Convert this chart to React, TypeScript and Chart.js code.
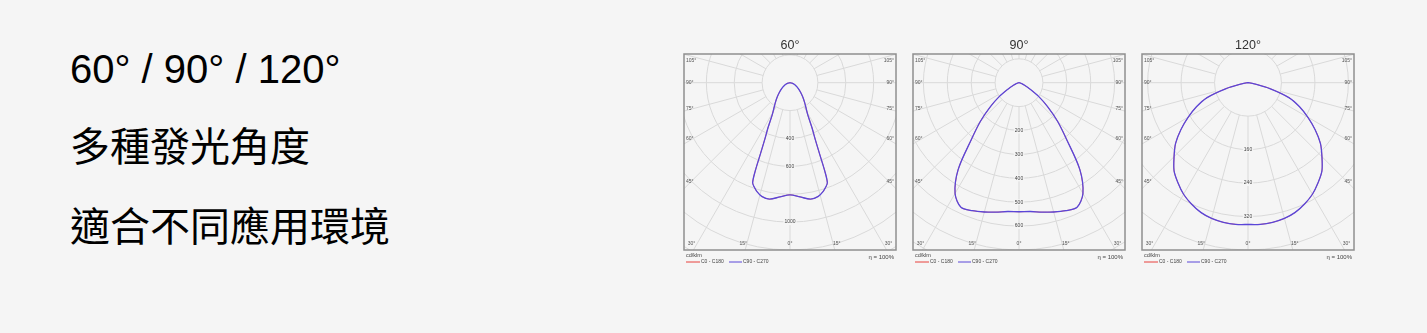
import React, { useEffect, useRef } from "react";
import { Chart, registerables } from "chart.js";

Chart.register(...registerables);

// ---------- data ----------
const headline = "60° / 90° / 120°";
const textLines = ["多種發光角度", "適合不同應用環境"];

const chartTitles = ["60°", "90°", "120°"];
const seriesNames = ["C0 - C180", "C90 - C270"];
const unitLabel = "cd/klm";
const efficiencyLabel = "η = 100%";

// gamma angle from nadir (deg) and luminous intensity (cd/klm)
const gamma60 = [0, 5, 10, 14, 17, 19, 20.5, 21.5, 22.5, 24, 26, 29, 33, 37, 42, 48, 55, 62, 70, 80, 90];
const intensity60 = [804, 822, 848, 840, 815, 790, 765, 680, 560, 445, 360, 262, 208, 172, 136, 102, 73, 50, 32, 14, 0];
const gamma90 = [0, 5, 10, 15, 20, 25, 30, 35, 40, 45, 50, 55, 60, 65, 70, 75, 80, 85, 90];
const intensity90 = [540, 541, 550, 560, 570, 575, 535, 444, 310, 228, 156, 100, 52, 26, 14, 7, 3, 1, 0];
const gamma120 = [0, 5, 10, 15, 20, 25, 30, 35, 40, 45, 50, 55, 60, 65, 70, 75, 80, 85, 90];
const intensity120 = [339, 340, 339, 336, 330, 320, 308, 292, 275, 250, 226, 196, 165, 136, 104, 54, 15, 4, 0];

const ringSteps = [200, 100, 80];
const axisMax = [1200, 700, 400];
const ringLabels60 = [400, 600, 1000];
const ringLabels90 = [200, 300, 400, 500, 600];
const ringLabels120 = [160, 240, 320];
const sideAngleLabels = [45, 60, 75, 90, 105];
const bottomAngleLabels = [0, 15, 30];
const radialStepDeg = 15;

const BG = "#f5f5f5";
const RED = "#e8413c";
const BLUE = "#5a46d8";

function curvePoints(gam: number[], ints: number[]) {
  const pts: { x: number; y: number }[] = [];
  for (let i = gam.length - 1; i >= 0; i--) {
    const g = (gam[i] * Math.PI) / 180;
    pts.push({ x: -ints[i] * Math.sin(g), y: -ints[i] * Math.cos(g) });
  }
  for (let i = 1; i < gam.length; i++) {
    const g = (gam[i] * Math.PI) / 180;
    pts.push({ x: ints[i] * Math.sin(g), y: -ints[i] * Math.cos(g) });
  }
  return pts;
}

const polarPlugin = {
  id: "polarGrid",
  beforeDatasetsDraw(chart: any, _args: any, opts: any) {
    const { ctx, chartArea: a } = chart;
    const xs = chart.scales.x;
    const ys = chart.scales.y;
    const cx = xs.getPixelForValue(0);
    const cy = ys.getPixelForValue(0);
    const step = opts.ringStep;
    const ppu = (xs.getPixelForValue(step) - cx) / step;
    const r0 = step * ppu;
    const maxR = Math.hypot(Math.max(cx - a.left, a.right - cx), Math.max(cy - a.top, a.bottom - cy));
    ctx.save();
    ctx.beginPath();
    ctx.rect(a.left, a.top, a.right - a.left, a.bottom - a.top);
    ctx.clip();
    ctx.strokeStyle = "#d9d9d9";
    ctx.lineWidth = 1;
    for (let v = step; v * ppu <= maxR + r0; v += step) {
      ctx.beginPath();
      ctx.arc(cx, cy, v * ppu, 0, Math.PI * 2);
      ctx.stroke();
    }
    for (let g = 0; g < 360; g += radialStepDeg) {
      const t = (g * Math.PI) / 180;
      ctx.beginPath();
      ctx.moveTo(cx + r0 * Math.sin(t), cy + r0 * Math.cos(t));
      ctx.lineTo(cx + 500 * Math.sin(t), cy + 500 * Math.cos(t));
      ctx.stroke();
    }
    // ring labels
    ctx.font = '5px "Liberation Sans", Arial, sans-serif';
    ctx.textAlign = "center";
    ctx.textBaseline = "middle";
    (opts.ringLabels as number[]).forEach((v) => {
      const y = ys.getPixelForValue(-v);
      const w = ctx.measureText(String(v)).width + 2;
      ctx.fillStyle = BG;
      ctx.fillRect(cx - w / 2, y - 3, w, 6);
      ctx.fillStyle = "#444";
      ctx.fillText(String(v), cx, y);
    });
    ctx.restore();
  },
  afterDatasetsDraw(chart: any, _args: any, opts: any) {
    const { ctx, chartArea: a } = chart;
    const xs = chart.scales.x;
    const ys = chart.scales.y;
    const cx = xs.getPixelForValue(0);
    const cy = ys.getPixelForValue(0);
    ctx.save();
    // frame
    ctx.strokeStyle = "#8f8f8f";
    ctx.lineWidth = 1.5;
    ctx.strokeRect(a.left, a.top, a.right - a.left, a.bottom - a.top);
    // angle labels
    ctx.fillStyle = "#555";
    ctx.font = '5px "Liberation Sans", Arial, sans-serif';
    ctx.textBaseline = "middle";
    sideAngleLabels.forEach((g) => {
      const t = (g * Math.PI) / 180;
      const dx = cx - a.left;
      const yLine = cy + (dx / Math.sin(t)) * Math.cos(t);
      let y = yLine - 10 * Math.cos(t);
      y = Math.max(a.top + 7, Math.min(a.bottom - 7, y));
      ctx.textAlign = "left";
      ctx.fillText(g + "°", a.left + 2, y);
      ctx.textAlign = "right";
      ctx.fillText(g + "°", a.right - 2, y);
    });
    bottomAngleLabels.forEach((g) => {
      const t = (g * Math.PI) / 180;
      const off = (a.bottom - cy) * Math.tan(t);
      const y = a.bottom - 6;
      ctx.textAlign = "center";
      const xl = Math.max(a.left + 7, cx - off - 2);
      const xr = Math.min(a.right - 7, cx + off + 2);
      ctx.fillText(g + "°", g === 0 ? cx : xl, y);
      if (g !== 0) ctx.fillText(g + "°", xr, y);
    });
    // title
    ctx.fillStyle = "#333";
    ctx.font = '12.5px "Liberation Sans", Arial, sans-serif';
    ctx.textAlign = "center";
    ctx.textBaseline = "middle";
    ctx.fillText(opts.title, (a.left + a.right) / 2, a.top - 8);
    // unit + efficiency
    ctx.fillStyle = "#444";
    ctx.font = '5.5px "Liberation Sans", Arial, sans-serif';
    ctx.textAlign = "left";
    ctx.fillText(unitLabel, a.left + 2, a.bottom + 5.5);
    ctx.font = '6px "Liberation Sans", Arial, sans-serif';
    ctx.textAlign = "right";
    ctx.fillText(efficiencyLabel, a.right - 2, a.bottom + 7);
    // legend
    const ly = a.bottom + 12;
    ctx.font = '5px "Liberation Sans", Arial, sans-serif';
    ctx.textAlign = "left";
    ctx.lineWidth = 1;
    ctx.strokeStyle = RED;
    ctx.beginPath();
    ctx.moveTo(a.left + 2, ly);
    ctx.lineTo(a.left + 16, ly);
    ctx.stroke();
    ctx.fillStyle = "#444";
    ctx.fillText(seriesNames[0], a.left + 17, ly);
    ctx.strokeStyle = BLUE;
    ctx.beginPath();
    ctx.moveTo(a.left + 45, ly);
    ctx.lineTo(a.left + 58, ly);
    ctx.stroke();
    ctx.fillText(seriesNames[1], a.left + 59, ly);
    ctx.restore();
  },
};

const FRAME_W = 212;
const FRAME_H = 196;
const CENTER_X = 106;
const CENTER_Y = 28.7;

function PolarChart({ idx, gammas, intensities, ringLabels }: { idx: number; gammas: number[]; intensities: number[]; ringLabels: number[] }) {
  const ref = useRef<HTMLCanvasElement>(null);
  useEffect(() => {
    const max = axisMax[idx];
    const unitPx = (FRAME_H - CENTER_Y) / max;
    const pts = curvePoints(gammas, intensities);
    const chart = new Chart(ref.current as HTMLCanvasElement, {
      type: "scatter",
      data: {
        datasets: [
          { label: seriesNames[0], data: pts, order: 2, showLine: true, borderColor: RED, borderWidth: 0.7, pointRadius: 0, tension: 0.3, fill: false },
          { label: seriesNames[1], data: pts, order: 1, showLine: true, borderColor: BLUE, borderWidth: 1.3, pointRadius: 0, tension: 0.3, fill: false },
        ],
      },
      options: {
        responsive: false,
        animation: false,
        layout: { padding: { left: 10, top: 20, right: 10, bottom: 24 } },
        scales: {
          x: { type: "linear", display: false, min: -CENTER_X / unitPx, max: (FRAME_W - CENTER_X) / unitPx },
          y: { type: "linear", display: false, min: -max, max: CENTER_Y / unitPx },
        },
        plugins: {
          legend: { display: false },
          tooltip: { enabled: false },
          polarGrid: { ringStep: ringSteps[idx], ringLabels, title: chartTitles[idx] },
        } as any,
      },
      plugins: [polarPlugin],
    });
    return () => chart.destroy();
  }, [idx, gammas, intensities, ringLabels]);
  return (
    <canvas
      ref={ref}
      width={232}
      height={240}
      style={{ position: "absolute", left: 674 + idx * 229, top: 34, width: 232, height: 240 }}
    />
  );
}

export default function App() {
  const latin = '"Liberation Sans", Arial, sans-serif';
  const cjk = '"Liberation Sans", "Noto Sans CJK TC", sans-serif';
  return (
    <div style={{ position: "absolute", left: 0, top: 0, width: 1427, height: 333, background: BG, overflow: "hidden" }}>
      <div style={{ position: "absolute", left: 70, top: 49, fontFamily: latin, fontSize: 40, lineHeight: "40px", color: "#000", whiteSpace: "nowrap" }}>
        {headline}
      </div>
      <div style={{ position: "absolute", left: 70, top: 127, fontFamily: cjk, fontSize: 40, lineHeight: "40px", color: "#000", whiteSpace: "nowrap" }}>
        {textLines[0]}
      </div>
      <div style={{ position: "absolute", left: 70, top: 207, fontFamily: cjk, fontSize: 40, lineHeight: "40px", color: "#000", whiteSpace: "nowrap" }}>
        {textLines[1]}
      </div>
      <PolarChart idx={0} gammas={gamma60} intensities={intensity60} ringLabels={ringLabels60} />
      <PolarChart idx={1} gammas={gamma90} intensities={intensity90} ringLabels={ringLabels90} />
      <PolarChart idx={2} gammas={gamma120} intensities={intensity120} ringLabels={ringLabels120} />
    </div>
  );
}
